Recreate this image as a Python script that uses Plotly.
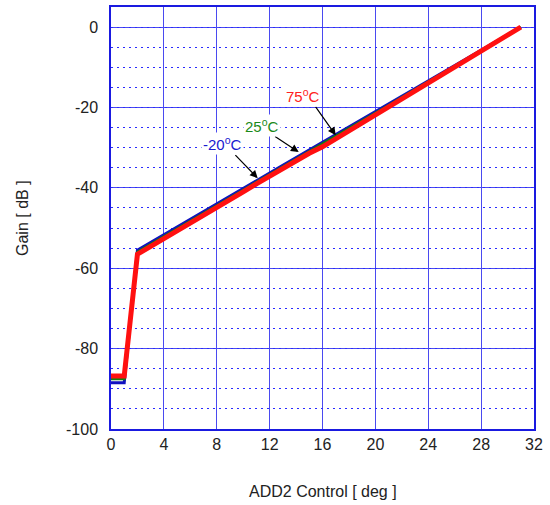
import plotly.graph_objects as go

x_steps = list(range(32))
gain_m20 = [-88.5, -88.5, -55.5, -53.6, -51.7, -49.8, -47.8, -45.9, -44.0, -42.1, -40.2, -38.3, -36.3, -34.4, -32.5, -30.6,
            -28.7, -26.8, -24.9, -22.9, -21.0, -19.1, -17.2, -15.3, -13.4, -11.4, -9.5, -7.6, -5.7, -3.8, -1.9, 0.0]
gain_25 = [-87.5, -87.5, -56.0, -54.1, -52.1, -50.2, -48.3, -46.3, -44.4, -42.5, -40.6, -38.6, -36.7, -34.8, -32.8, -31.0,
           -29.2, -27.3, -25.3, -23.4, -21.4, -19.5, -17.5, -15.6, -13.6, -11.7, -9.7, -7.8, -5.8, -3.9, -1.9, 0.0]
gain_75 = [-86.8, -86.8, -56.5, -54.6, -52.6, -50.7, -48.7, -46.8, -44.9, -42.9, -41.0, -39.0, -37.1, -35.2, -33.0, -31.4,
           -29.8, -27.8, -25.8, -23.8, -21.9, -19.9, -17.9, -15.9, -13.9, -11.9, -9.9, -7.9, -5.9, -3.9, -2.0, 0.0]
x_ticks = [0, 4, 8, 12, 16, 20, 24, 28, 32]
y_ticks = [0, -20, -40, -60, -80, -100]
y_ticktext = ["0", "-20", "-40", "-60", "-80", "-100"]

fig = go.Figure()
# invisible helper trace so the dotted-grid overlay axis is drawn
fig.add_trace(go.Scatter(x=[None], y=[None], yaxis="y2", showlegend=False, hoverinfo="skip"))
fig.add_trace(go.Scatter(x=x_steps, y=gain_m20, mode="lines", line=dict(color="#1010c0", width=3), name="-20°C"))
fig.add_trace(go.Scatter(x=x_steps, y=gain_25, mode="lines", line=dict(color="#108010", width=3), name="25°C"))
fig.add_trace(go.Scatter(x=x_steps, y=gain_75, mode="lines", line=dict(color="#ff1010", width=5), name="75°C"))

labels = [
    ("-20<sup>o</sup>C", "#1a1ad0", 8.4, -28.9, 11.1, -37.6),
    ("25<sup>o</sup>C", "#1a8a1a", 11.4, -24.4, 14.2, -31.1),
    ("75<sup>o</sup>C", "#ff2020", 14.5, -16.9, 17.0, -26.9),
]
for text, col, tx, ty, hx, hy in labels:
    fig.add_annotation(x=hx, y=hy, ax=tx + 0.9, ay=ty - 2.6, xref="x", yref="y", axref="x", ayref="y",
                       text="", showarrow=True, arrowhead=2, arrowsize=1.3, arrowwidth=1.2, arrowcolor="black")
    fig.add_annotation(x=tx, y=ty, xref="x", yref="y", text=text, showarrow=False,
                       font=dict(family="Liberation Sans, Arial", size=15, color=col), bgcolor="white")

axis_font = dict(family="Liberation Sans, Arial", size=16, color="#222")
fig.add_annotation(x=0.5, y=0, xref="paper", yref="paper", yshift=-62, yanchor="middle", showarrow=False,
                   text="ADD2 Control [ deg ]", font=axis_font)
fig.add_annotation(x=0, y=0.5, xref="paper", yref="paper", xshift=-89, xanchor="center", showarrow=False,
                   text="Gain [ dB ]", textangle=-90, font=axis_font)

grid_col = "#4a4af0"
fig.update_layout(
    width=550, height=505,
    margin=dict(l=111, r=16, t=7, b=76),
    plot_bgcolor="white", paper_bgcolor="white",
    showlegend=False,
    xaxis=dict(range=[0, 32], tickvals=x_ticks, ticks="", showline=True, linecolor="#1a1ae0", linewidth=1.5,
               mirror=True, showgrid=True, gridcolor=grid_col, gridwidth=1, zeroline=False,
               tickfont=axis_font, automargin=False),
    yaxis=dict(range=[-100, 5], tickvals=y_ticks, ticktext=y_ticktext, ticks="", showline=True,
               linecolor="#1a1ae0", linewidth=1.5,
               mirror=True, showgrid=True, gridcolor=grid_col, gridwidth=1, zeroline=False,
               tickfont=axis_font, automargin=False, ticklabelstandoff=8),
    yaxis2=dict(range=[-100, 5], overlaying="y", side="left", dtick=5, tick0=0, ticks="",
                showticklabels=False, showline=False, zeroline=False, automargin=False,
                showgrid=True, griddash="2px,4px", gridcolor="#2a2aff", gridwidth=1),
)
fig.write_html("out.html", post_script="document.body.style.margin='0';",
               config={"displayModeBar": False})
